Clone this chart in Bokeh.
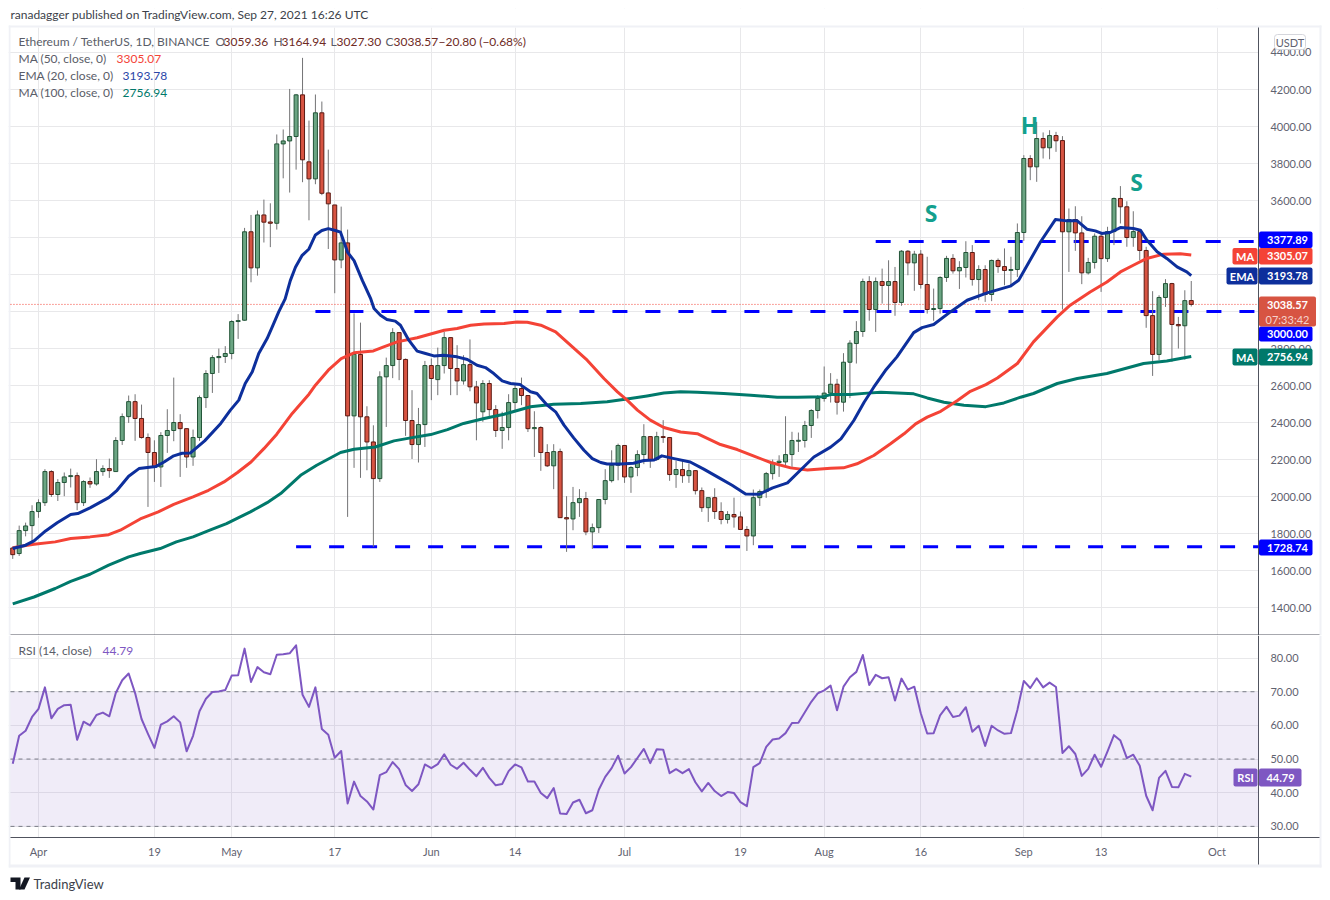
from bokeh.plotting import figure
from bokeh.models import (Range1d, FixedTicker, NumeralTickFormatter, Label, BoxAnnotation,
                          ColumnDataSource, PolyAnnotation)
from bokeh.layouts import column
from bokeh.core.properties import value
from bokeh.embed import file_html
from bokeh.resources import INLINE

FONT = "Lato"

# trading days counted from 1 Apr 2021
days = list(range(-4, 180))

opens = [1722,1692,1816,1843,1919,1967,2135,2011,2076,2108,
 2113,1967,2081,2068,2135,2151,2135,2303,2432,2513,
 2422,2319,2238,2160,2330,2357,2400,2367,2214,2319,
 2535,2665,2751,2757,2773,2946,2953,3431,3236,3522,
 3484,3477,3906,3922,3946,4171,3809,3717,4074,3641,
 3576,3279,3371,2436,2768,2431,2295,2097,2647,2708,
 2886,2741,2411,2281,2389,2708,2632,2708,2859,2692,
 2625,2713,2593,2458,2611,2470,2357,2373,2508,2584,
 2546,2367,2373,2238,2166,2243,1886,1879,1967,1989,
 1809,1832,1984,2086,2169,2276,2106,2157,2227,2324,
 2200,2324,2319,2119,2146,2113,2140,2032,1940,1994,
 1919,1876,1903,1890,1822,1787,1994,2027,2124,2184,
 2187,2227,2299,2303,2384,2465,2530,2559,2607,2510,
 2726,2827,2892,3162,3011,3162,3141,3162,3049,3326,
 3263,3310,3146,3011,3016,3184,3287,3220,3238,3319,
 3173,3227,3092,3276,3243,3222,3227,3427,3827,3782,
 3935,3885,3951,3924,3431,3497,3425,3209,3265,3407,
 3286,3432,3611,3566,3400,3432,3330,2978,2768,3076,
 3151,2930,2923,3059.36]
closes = [1686,1816,1841,1919,1967,2135,2011,2076,2106,2113,
 1967,2081,2068,2135,2151,2140,2303,2432,2513,2422,
 2319,2238,2160,2330,2357,2400,2367,2214,2319,2535,
 2665,2751,2757,2773,2946,2951,3431,3236,3522,3483,
 3477,3906,3922,3946,4171,3820,3717,4074,3639,3582,
 3279,3371,2436,2769,2431,2295,2097,2647,2708,2886,
 2741,2411,2281,2389,2708,2638,2708,2859,2692,2625,
 2713,2593,2506,2611,2470,2357,2373,2508,2584,2546,
 2367,2373,2238,2166,2243,1886,1879,1967,1989,1809,
 1832,1984,2086,2169,2276,2106,2157,2227,2324,2200,
 2324,2319,2119,2146,2113,2140,2032,1940,1994,1919,
 1876,1903,1890,1822,1787,1994,2027,2124,2184,2191,
 2227,2303,2304,2384,2465,2530,2559,2607,2510,2726,
 2829,2892,3162,3011,3162,3141,3162,3049,3326,3263,
 3310,3146,3011,3016,3184,3287,3220,3238,3319,3173,
 3227,3092,3276,3243,3222,3227,3427,3827,3782,3935,
 3885,3951,3923,3431,3497,3425,3209,3265,3407,3286,
 3432,3611,3566,3400,3432,3330,2978,2768,3076,3151,
 2930,2923,3059,3038.57]
highs = [1730,1843,1859,1953,1985,2148,2142,2094,2130,2151,
 2130,2088,2103,2202,2169,2205,2321,2449,2546,2553,
 2497,2341,2304,2348,2472,2643,2445,2367,2362,2546,
 2683,2764,2800,2813,2953,2986,3452,3522,3546,3605,
 3585,3957,3984,4203,4176,4371,4032,4173,4135,3875,
 3576,3567,3443,2990,2940,2488,2385,2677,2751,2910,
 2886,2746,2575,2479,2733,2746,2805,2890,2859,2818,
 2764,2849,2625,2629,2629,2494,2458,2553,2614,2643,
 2546,2461,2380,2283,2283,2259,2002,2052,2040,2025,
 1854,1984,2148,2250,2286,2276,2164,2250,2391,2326,
 2350,2413,2322,2193,2200,2178,2142,2049,1994,2045,
 1969,1921,1994,1919,1840,2038,2038,2133,2200,2223,
 2434,2350,2346,2409,2472,2548,2703,2667,2636,2775,
 2845,2948,3178,3191,3184,3232,3277,3241,3332,3332,
 3328,3332,3296,3124,3191,3301,3310,3272,3380,3359,
 3250,3250,3281,3287,3341,3296,3476,3845,3845,4025,
 3968,3980,3971,3948,3557,3569,3515,3290,3422,3422,
 3458,3616,3678,3596,3542,3440,3350,3110,3088,3175,
 3155,2971,3115,3164.94]
lows = [1663,1679,1785,1755,1885,1949,1998,1976,2002,2049,
 1926,1949,2047,2059,2112,2101,2135,2279,2398,2301,
 2313,1944,2079,2052,2236,2299,2106,2155,2166,2301,
 2479,2560,2668,2722,2742,2852,2950,3158,3194,3373,
 3348,3443,3720,3643,3767,3699,3493,3688,3629,3338,
 3099,3234,1890,2155,2101,2142,1728,2079,2376,2640,
 2629,2328,2203,2184,2268,2521,2548,2665,2548,2548,
 2605,2569,2304,2404,2422,2322,2258,2304,2458,2494,
 2349,2214,2139,2160,2040,1886,1701,1818,1890,1791,
 1717,1803,1958,2076,2088,2074,2020,2110,2175,2155,
 2193,2290,2085,2047,2074,2074,2011,1917,1863,1879,
 1850,1854,1832,1822,1706,1737,1949,1993,2092,2106,
 2160,2151,2241,2265,2317,2422,2513,2508,2443,2459,
 2532,2719,2863,2950,2890,3043,3007,2977,3031,3196,
 3112,3124,2989,2950,2989,3160,3205,3122,3184,3140,
 3061,3052,3056,3209,3142,3142,3187,3382,3710,3701,
 3827,3823,3863,3011,3214,3328,3148,3200,3232,3106,
 3268,3359,3476,3350,3350,3277,2912,2652,2737,3025,
 2728,2800,2740,3027.30]

ema_x = [-4,-2,-0.7,1.1,2.9,5,6.1,8,10.9,12.2,14,15.6,16.9,18.2,19.5,21,22.3,23.6,25.8,28.3,29.8,31.1,32.1,33.2,34.2,35.5,36.3,37.3,
 38.3,39.1,39.9,40.9,42,43,44,45,46.1,46.9,48,49,50.3,51.6,52.1,53.1,54.1,55.4,56.2,57.5,58.8,60.1,61.4,
 62.9,65,66.6,68.1,69.4,70.7,72,73.3,74.8,76.4,77.4,79,80.3,81.6,83.1,84.7,86,87.3,88.3,90.4,92.4,94,95.6,96.8,98.7,101.2,103.3,105.9,107.7,109.8,111.9,114,116.3,118.3,120.4,123,
 124.6,126.6,128.2,129.7,131.5,133.3,135.9,137.2,139,141.6,144.2,147.3,150.9,152.2,155.6,157.9,159.7,161.3,162.8,164.1,165.1,166.4,168,170,171.1,172.1,173.7,175.2,176.8,178.3,179]
ema_y = [1719,1737,1760,1814,1858,1903,1908,1939,1994,2034,2110,2151,2157,2162,2187,2220,2234,2236,2301,2395,2467,2521,2611,2674,2773,2854,2917,2998,
 3068,3167,3239,3302,3338,3414,3438,3448,3438,3429,3320,3275,3167,3068,3016,2980,2957,2948,2926,2845,2786,2773,2760,
 2764,2755,2741,2710,2697,2665,2625,2611,2605,2566,2557,2494,2458,2386,2317,2250,2205,2184,2176,2176,2180,2195,2198,2220,2205,2187,2148,2097,2061,2014,2012,2047,2074,2142,2214,2267,
 2312,2411,2510,2591,2681,2755,2886,2913,2930,2998,3061,3101,3137,3169,3377,3497,3490,3490,3445,3436,3422,3427,3454,3449,3440,3386,3323,3287,3241,3214,3193.78]

ma50_x = [-4,-0.7,2.6,5,8,10.9,12.7,15.8,18.6,21,24,26.4,28.8,30.9,33,35,37,39.4,42,43,45,47,49,52,53.6,55.7,58.8,
 63,65,67.1,69.2,72.3,74.3,75.9,78,80.3,82.6,85.2,87.8,89.9,91.4,93,95,97.1,99.7,102.3,105.9,108.5,111.1,113.7,116.8,119.4,123,
 125,127.1,129.7,132.3,134.4,136.2,138,140.1,142.7,144.7,147.1,148.9,152,154.5,158.2,160.2,163.3,165.9,168,170,172.1,174.7,177.3,179]
ma50_y = [1724,1742,1755,1773,1782,1794,1818,1879,1917,1958,1998,2034,2079,2130,2187,2259,2337,2449,2553,2602,2683,2746,2777,2787,2809,2836,2858,
 2899,2908,2926,2933,2935,2944,2942,2926,2890,2818,2737,2638,2566,2521,2467,2413,2373,2349,2340,2281,2254,2218,2184,2155,2144,2153,
 2155,2177,2222,2285,2339,2393,2429,2461,2519,2569,2605,2641,2719,2836,2971,3034,3106,3160,3214,3250,3287,3310,3312,3305.07]

ma100_x = [-4,-0.7,2.6,5,8,10.9,14,15.8,18.9,21.4,24,26.6,29.2,31,32.9,35.5,37.6,40.7,43.2,46.9,49,52.3,55.2,57.8,
 60.9,63.5,66,69.2,72.3,76.4,80,84.2,88.3,91.9,94.5,97.1,99.7,102.3,106.4,110.6,114.7,117.8,121.9,
 123,126.1,128.7,130.8,133.4,135.9,138,140.6,143.7,147.1,149.9,152.5,154.5,158.2,161.3,165.9,171.6,175.2,179]
ma100_y = [1420,1457,1503,1542,1580,1629,1674,1692,1719,1755,1782,1818,1854,1885,1917,1967,2016,2115,2169,2238,2256,2268,2301,2317,
 2335,2362,2395,2422,2445,2485,2499,2503,2512,2530,2544,2560,2566,2564,2557,2548,2537,2537,2540,
 2551,2551,2559,2564,2559,2555,2533,2510,2494,2486,2506,2537,2557,2611,2638,2665,2719,2733,2756.94]

rsi = [48.6,56.9,58.4,62.5,64.9,71.3,62.1,64.9,66,66.1,
 55.7,61.1,60,63.1,63.8,62.7,69.6,73.4,75.4,69.6,
 61.9,57.5,53.3,60.2,61.2,62.7,60.9,52.3,56.9,64.2,
 67.9,69.9,70.1,70.5,74.8,74.9,82.8,72.9,77.3,75.8,
 75.2,81,81.1,81.4,83.8,69.1,65.5,71.3,58.9,57.2,
 50.4,52.4,36.8,43.3,39,37.4,35,45.2,46.1,49.1,
 47,42.3,40.5,42.5,48.4,47.3,48.5,51.4,48.3,47.1,
 48.9,46.8,44.9,47.4,44.4,42.2,42.6,46.4,48.4,47.5,
 43.3,43.3,39.9,38.4,41.4,33.8,33.7,37.1,37.9,33.9,
 34.8,40.9,44.7,47.3,51,45.7,47.6,50.3,53,48.8,
 52.9,52.8,45.8,47,45.8,47,43.1,40.4,42.9,40.5,
 39,40.2,39.9,37.2,36,47.6,48.8,53.6,55.8,56.1,
 57.7,60.7,60.8,63.9,67,69.5,70.4,71.8,64.5,71.5,
 74.3,75.9,80.9,72,75,74,74.3,67.4,73.9,70.6,
 71.5,63.6,57.6,57.7,63,65.5,62.5,62.9,65.4,58.1,
 59.9,53.9,59.9,58.5,57.5,57.7,64.6,73.2,71.1,74,
 71.3,72.7,71.4,51.8,53.8,51.5,45,47.1,51.3,47.7,
 52.3,57.1,55.5,50.3,51.3,48,39.1,34.8,44.4,46.5,
 41.7,41.6,45.6,44.79]

assert len(opens) == len(closes) == len(highs) == len(lows) == len(rsi) == len(days)

price_ticks = list(range(1400, 4401, 200))
rsi_ticks = [30, 40, 50, 60, 70, 80]
rsi_levels = [30, 50, 70]
x_ticks = [0, 18, 30, 46, 61, 74, 91, 109, 122, 137, 153, 165, 183]
x_labels = ["Apr", "19", "May", "17", "Jun", "14", "Jul", "19", "Aug", "16", "Sep", "13", "Oct"]

level_values = [3377.89, 3000, 1728.74]
level_starts = [130, 43, 40]
note_text = ["S", "H", "S"]
note_x = [138.6, 153.9, 170.5]
note_y = [3535, 4010, 3702]

UP, DOWN, UP_EDGE, DOWN_EDGE, WICK = "#6ba583", "#d75442", "#225437", "#5b1a13", "#737375"
BLUE, RED, TEAL, PURPLE = "#0d2f9c", "#f44336", "#00796b", "#7e57c2"
GRID, DARK, LIGHT, TICK = "#e8e8ea", "#50535e", "#f0f1f6", "#5f6270"

# day at page x: frame spans the whole canvas; pane proper ends at the right axis
X_LEFT, X_AXIS, X_RIGHT = -4.658, 189.44, 199.38
PANE_L = -4.35

def base(height, yr, yticks, x_loc):
    p = figure(width=1314, height=height, x_range=Range1d(X_LEFT, X_RIGHT), y_range=Range1d(*yr),
               y_axis_location="right", x_axis_location=x_loc, output_backend="svg", toolbar_location=None,
               min_border_left=0, min_border_right=0, min_border_top=0, min_border_bottom=0,
               background_fill_color="white", border_fill_color="white", outline_line_color=None)
    p.yaxis.fixed_location = X_AXIS
    p.yaxis.ticker = FixedTicker(ticks=yticks)
    p.yaxis.formatter = NumeralTickFormatter(format="0.00")
    p.yaxis.axis_line_color = None
    p.yaxis.major_tick_line_color = None
    p.yaxis.minor_tick_line_color = None
    p.yaxis.major_label_text_color = TICK
    p.yaxis.major_label_text_font = FONT
    p.yaxis.major_label_text_font_size = "11px"
    p.yaxis.major_label_standoff = 6
    p.ygrid.ticker = FixedTicker(ticks=yticks)
    p.xgrid.ticker = FixedTicker(ticks=x_ticks)
    for g in (p.xgrid, p.ygrid):
        g.grid_line_color = GRID
        g.grid_line_width = 1
    return p

p1 = base(627, (1249, 4637.8), price_ticks, None)
p2 = base(257, (10.36, 86.7), rsi_ticks, "below")
p2.xaxis.fixed_location = 26.7
p2.xaxis.ticker = FixedTicker(ticks=x_ticks)
p2.xaxis.major_label_overrides = dict(zip(x_ticks, x_labels))
p2.xaxis.axis_line_color = None
p2.xaxis.major_tick_line_color = None
p2.xaxis.minor_tick_line_color = None
p2.xaxis.major_label_text_color = TICK
p2.xaxis.major_label_text_font = FONT
p2.xaxis.major_label_text_font_size = "11px"
p2.xaxis.major_label_standoff = 2

# page pixel helpers (canvas = page minus figure origin)
def box(p, oy, l, r, t, b, color, radius=0, level="annotation"):
    p.add_layout(BoxAnnotation(left=l - 8, right=r - 8, top=t - oy, bottom=b - oy,
                               left_units="canvas", right_units="canvas", top_units="canvas", bottom_units="canvas",
                               fill_color=color, fill_alpha=1, line_color=None, border_radius=radius, level=level))

def tx(p, oy, x, y, s, color, size=12, align="left", font=FONT, weight="normal"):
    p.add_layout(Label(x=x - 8, y=y - oy, x_units="canvas", y_units="canvas", text=s, text_color=color,
                       text_font=font, text_font_size=f"{size}px", text_font_style=weight,
                       text_align=align, text_baseline="middle"))

O1, O2 = 8, 635

# white covers hide the grid outside the panes
box(p1, O1, 8, 1322, 8, 27, "white", level="underlay")
box(p1, O1, 1258.5, 1322, 8, 635, "white", level="underlay")
box(p2, O2, 1258.5, 1322, 635, 892, "white", level="underlay")
box(p2, O2, 8, 1322, 837, 892, "white", level="underlay")
# frame strips
box(p1, O1, 8, 10, 25, 635, LIGHT, level="underlay")
box(p1, O1, 8, 1321, 25, 27, LIGHT, level="underlay")
box(p1, O1, 1319, 1321, 25, 635, LIGHT, level="underlay")
box(p2, O2, 8, 10, 635, 867, LIGHT, level="underlay")
box(p2, O2, 8, 1321, 864, 867, LIGHT, level="underlay")
box(p2, O2, 1319, 1321, 635, 867, LIGHT, level="underlay")
# axis rules
box(p1, O1, 1257.5, 1258.5, 27, 635, DARK, level="underlay")
box(p1, O1, 10, 1319, 634, 635, DARK, level="underlay")
box(p2, O2, 1257.5, 1258.5, 635, 864, DARK, level="underlay")
box(p2, O2, 10, 1319, 836.5, 837.5, DARK, level="underlay")

# candles
src = ColumnDataSource(dict(
    x=days, o=opens, c=closes, h=highs, l=lows,
    fill=[UP if c >= o else DOWN for o, c in zip(opens, closes)],
    edge=[UP_EDGE if c >= o else DOWN_EDGE for o, c in zip(opens, closes)]))

p1.segment(x0=[PANE_L], y0=[closes[-1]], x1=[X_AXIS], y1=[closes[-1]], line_color=RED, line_dash="1 2", line_width=1)
p1.segment(x0=level_starts, y0=level_values, x1=[X_AXIS] * 3, y1=level_values,
           line_color="#0000ff", line_width=3, line_dash="15 18")
p1.segment("x", "l", "x", "h", source=src, line_color=WICK, line_width=1)
p1.vbar("x", 0.62, "o", "c", source=src, fill_color="fill", line_color="edge", line_width=1)
p1.line(ma100_x, ma100_y, line_color=TEAL, line_width=3, line_join="round")
p1.line(ma50_x, ma50_y, line_color=RED, line_width=3, line_join="round")
p1.line(ema_x, ema_y, line_color=BLUE, line_width=3, line_join="round")
p1.text(note_x, note_y, text=note_text, text_color="#13a08e", text_font=value("Noto Sans"),
        text_font_size="23px", text_font_style="bold", text_align="center", text_baseline="middle")

# RSI pane
p2.add_layout(BoxAnnotation(left=PANE_L, right=X_AXIS, bottom=rsi_levels[0], top=rsi_levels[-1],
                            fill_color="#9575cd", fill_alpha=0.14, line_color=None, level="underlay"))
p2.segment(x0=[PANE_L] * 3, y0=rsi_levels, x1=[X_AXIS] * 3, y1=rsi_levels,
           line_color="#787b86", line_dash="4 4", line_width=1)
p2.line(days, rsi, line_color=PURPLE, line_width=2, line_join="round")

# header & legends
GREY, VAL = "#5a5d68", "#6e2a24"
tx(p1, O1, 10, 14, "ranadagger published on TradingView.com, Sep 27, 2021 16:26 UTC", "#3c3f4a", 12)
tx(p1, O1, 18, 41, "Ethereum / TetherUS, 1D, BINANCE", GREY, 12)
for xl, letter, xv, val in [(215, "O", 223, opens[-1]), (273, "H", 281, highs[-1]), (330, "L", 336, lows[-1]), (385, "C", 393, closes[-1])]:
    tx(p1, O1, xl, 41, letter, GREY, 12)
    tx(p1, O1, xv, 41, f"{val:.2f}", VAL, 12)
tx(p1, O1, 438, 41, "\u221220.80 (\u22120.68%)", VAL, 12)
legend_rows = [(58, "MA (50, close, 0)", 116, ma50_y[-1], RED),
               (75, "EMA (20, close, 0)", 122, ema_y[-1], "#2a46a8"),
               (92, "MA (100, close, 0)", 122, ma100_y[-1], TEAL)]
for y, name, xv, val, col in legend_rows:
    tx(p1, O1, 18, y, name, GREY, 12)
    tx(p1, O1, xv, y, f"{val:.2f}", col, 12)
tx(p2, O2, 18, 650, "RSI (14, close)", GREY, 12)
tx(p2, O2, 102, 650, f"{rsi[-1]:.2f}", PURPLE, 12)

# USDT chip
p1.add_layout(BoxAnnotation(left=1274 - 8, right=1305 - 8, top=34 - 8, bottom=49 - 8,
                            left_units="canvas", right_units="canvas", top_units="canvas", bottom_units="canvas",
                            fill_color="white", fill_alpha=1, line_color="#d5d6dc", line_alpha=1, line_width=1, border_radius=3))
tx(p1, O1, 1289.5, 42, "USDT", TICK, 11, "center")

# price badges
WHITE = "white"
badges = [(231, 247.5, 1312, "#0000ff", level_values[0]),
          (247.5, 264, 1312, RED, ma50_y[-1]),
          (267, 284, 1312, BLUE, ema_y[-1]),
          (326, 341, 1312, "#0000ff", level_values[1]),
          (348, 365, 1312, TEAL, ma100_y[-1])]
for t, b, r, col, val in badges:
    box(p1, O1, 1258.5, r, t, b, col, 2)
    tx(p1, O1, 1287, (t + b) / 2, f"{val:.2f}", WHITE, 11, "center", weight="bold")
box(p1, O1, 1258.5, 1315.5, 296, 326, "#d75442", 2)
tx(p1, O1, 1287, 304.5, f"{closes[-1]:.2f}", WHITE, 11, "center", weight="bold")
tx(p1, O1, 1287, 318.5, "07:33:42", "#f6d3cd", 11, "center")
box(p1, O1, 1258.5, 1312, 539, 555, "#0000ff", 2)
tx(p1, O1, 1287, 547, f"{level_values[2]:.2f}", WHITE, 11, "center", weight="bold")
for l, t, b, col, s in [(1232, 247.5, 264, RED, "MA"), (1226, 267, 284, BLUE, "EMA"), (1232, 348, 365, TEAL, "MA")]:
    box(p1, O1, l, 1257, t, b, col, 2)
    tx(p1, O1, (l + 1257) / 2, (t + b) / 2, s, WHITE, 11, "center", weight="bold")

# RSI badge
box(p2, O2, 1233, 1257, 768, 786, PURPLE, 2)
tx(p2, O2, 1245, 777, "RSI", WHITE, 11, "center", weight="bold")
box(p2, O2, 1258.5, 1301, 768, 786, PURPLE, 2)
tx(p2, O2, 1280, 777, f"{rsi[-1]:.2f}", WHITE, 11, "center", weight="bold")

# logo
box(p2, O2, 10, 20, 877, 881.5, "#131722")
box(p2, O2, 15, 20, 881.5, 889, "#131722")
p2.add_layout(PolyAnnotation(xs=[24 - 8, 29.5 - 8, 24 - 8, 18.5 - 8], ys=[877 - O2, 877 - O2, 889 - O2, 889 - O2],
                             xs_units="canvas", ys_units="canvas", fill_color="#131722", fill_alpha=1, line_color=None))
tx(p2, O2, 33, 883, "TradingView", "#3c3f4a", 13)

page = column(p1, p2, spacing=0, margin=(8, 0, 0, 8))
open("out.html", "w").write(file_html(page, INLINE))
